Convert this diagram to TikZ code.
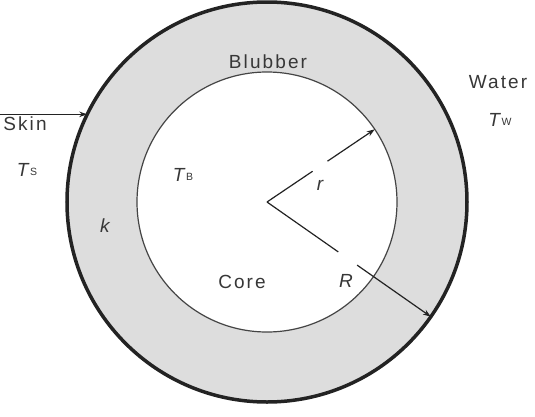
\documentclass[tikz,border=0pt]{standalone}
\usepackage{fontspec}
\setmainfont{Liberation Sans}[LetterSpace=11]
\usetikzlibrary{arrows.meta,calc}
\definecolor{blubbergray}{RGB}{221,221,221}
\definecolor{inkgray}{RGB}{35,35,35}
\definecolor{textgray}{RGB}{55,55,55}

\newcommand{\tsub}[1]{\textit{T}\kern-1.5pt\raisebox{1.5pt}{\fontsize{10.5}{11}\selectfont #1}}

\begin{document}
\begin{tikzpicture}[
  x=1pt, y=1pt,
  ring/.style={
    circle,
    draw=inkgray,
    line width=3.5pt,
    fill=blubbergray,
    inner sep=0pt,
    outer sep=0pt
  },
  corering/.style={
    circle,
    draw=inkgray!85,
    line width=1.2pt,
    fill=white,
    inner sep=0pt,
    outer sep=0pt
  },
  line/.style={-{Stealth[length=8pt,width=5.5pt]}, line width=1.2pt, draw=inkgray},
  plainline/.style={line width=1.2pt, draw=inkgray},
  lbl/.style={font=\fontsize{19}{21}\selectfont, text=textgray, inner sep=0pt},
  sym/.style={font=\fontsize{19}{21}\selectfont\itshape, text=textgray, inner sep=0pt}
]
\useasboundingbox (-267,-214) rectangle (268,202);

% Body: blubber ring and core
\node[ring, minimum size=400pt] (body) at (0,0) {};
\node[corering, minimum size=260pt] (core) at (0,0) {};

% Radii r and R
\draw[plainline] (core.center) -- (34:55);
\draw[line] (34:73) -- (core.34);
\draw[plainline] (core.center) -- (-35:87);
\draw[line] (-35:110) -- (body.-35);
\node[sym] (rlab) at (53,17) {r};
\node[sym] (Rlab) at (79,-79) {R};

% Skin pointer
\coordinate (skinstart) at (body.154.5 -| -267,0);
\draw[line] (skinstart) -- (body.154.5);
\node[lbl] (skin) at (-242,78) {Skin};
\node[lbl] (ts) at (-240,32) {\tsub{S}};

% Labels inside
\node[lbl] (blubber) at (1,140) {Blubber};
\node[lbl] (tb) at (-84,27) {\tsub{B}};
\node[sym] (k) at (-162,-24) {k};
\node[lbl] (corelab) at (-25,-80) {Core};

% Water side
\node[lbl] (water) at (231,120) {Water};
\node[lbl] (tw) at (233,82) {\tsub{W}};

\end{tikzpicture}
\end{document}
